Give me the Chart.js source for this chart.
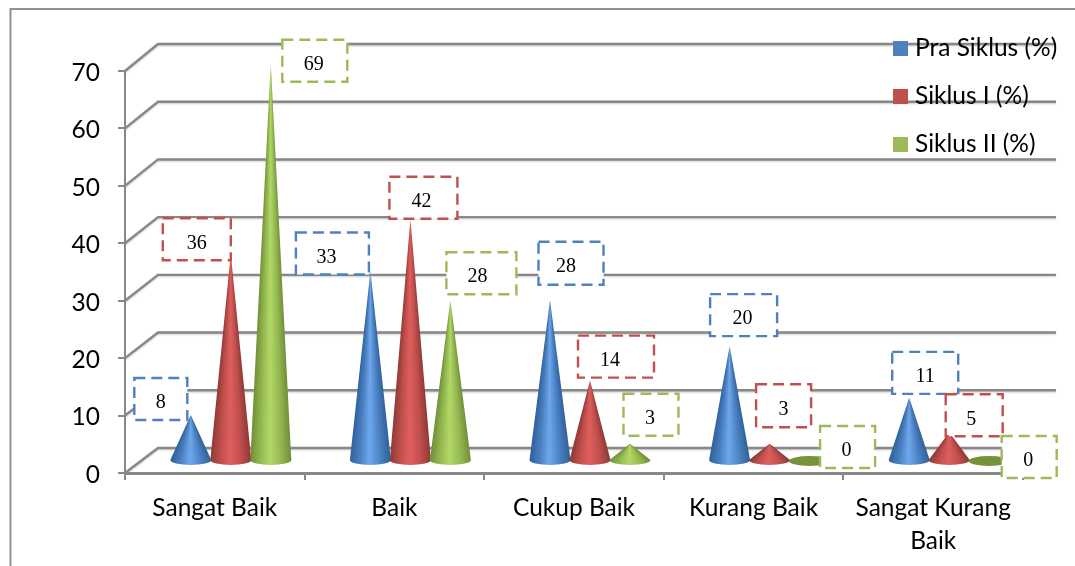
<!DOCTYPE html>
<html>
<head>
<meta charset="utf-8">
<style>
  html, body { margin: 0; padding: 0; background: #fff; }
  canvas { display: block; }
</style>
<script src="https://cdn.jsdelivr.net/npm/chart.js@4/dist/chart.umd.min.js"></script>
</head>
<body>
<canvas id="chart" width="1075" height="566"></canvas>
<script>
const categories = ['Sangat Baik', 'Baik', 'Cukup Baik', 'Kurang Baik', ['Sangat Kurang', 'Baik']];
const seriesNames = ['Pra Siklus (%)', 'Siklus I (%)', 'Siklus II (%)'];
const praSiklus = [8, 33, 28, 20, 11];
const siklusI = [36, 42, 14, 3, 5];
const siklusII = [69, 28, 3, 0, 0];
const yTicks = [0, 10, 20, 30, 40, 50, 60, 70];

// colours per series: legend swatch, dashed box, cone shading (edge, mid, centre)
const seriesColors = ['#4f81bd', '#c0504d', '#9bbb59'];
const labelBorders = ['#4f81bd', '#c0504d', '#9bbb59'];
const coneShades = [
    ['#2f5f98', '#4a80c0', '#6ea8ec'],
    ['#8c3836', '#c04f4c', '#de5f5d'],
    ['#6f8c38', '#94b850', '#b2d866']
];
const flatCone = ['#3b6496', '#a04240', '#76923c'];

// value label boxes, [dx, dy, w, h, text dx] from the top of each bar
const labelBoxes = [
    [[-14, -28, 53, 42, 0], [-22, -30, 73, 42, -6], [37, -49, 65, 43, -5], [30, -43, 67, 42, -1], [32, -37, 66, 42, 0]],
    [[-18, -27, 68, 42, 0], [29, -34, 68, 42, -2], [42, -36, 76, 42, -6], [30, -50, 55, 43, 0], [41, -29, 57, 42, -3]],
    [[60, -16, 65, 42, -1], [47, -39, 70, 42, -4], [37, -41, 55, 42, -1], [54, -26, 55, 42, -1], [56, -16, 55, 42, -1]]
];

const GRID = '#888888';
const DEPTH_X = 33;                   // back wall offset of the fake 3D box
const CONE_X = 16, CONE_Y = 12;       // cones stand in the middle of the floor
const CONE_RX = 20.5, CONE_RY = 5;

function strokeLine(ctx, pts, width, color) {
    ctx.beginPath();
    pts.forEach((p, i) => i ? ctx.lineTo(p[0], p[1]) : ctx.moveTo(p[0], p[1]));
    ctx.lineWidth = width;
    ctx.strokeStyle = color;
    ctx.stroke();
}

function drawCone(ctx, x, top, base, shades, flat) {
    const cx = x + CONE_X, by = base - CONE_Y, ay = top - CONE_Y;
    if (base - top < 1) {
        ctx.fillStyle = flat;
        ctx.beginPath();
        ctx.ellipse(cx, by, CONE_RX, CONE_RY, 0, 0, Math.PI * 2);
        ctx.fill();
        return;
    }
    ctx.save();
    ctx.beginPath();
    ctx.moveTo(cx, ay);
    ctx.lineTo(cx + CONE_RX, by);
    ctx.ellipse(cx, by, CONE_RX, CONE_RY, 0, 0, Math.PI);
    ctx.closePath();
    ctx.clip();
    // one gradient per pixel row so the shading narrows towards the tip
    for (let py = Math.floor(ay); py <= by + CONE_RY; py++) {
        const half = Math.min(CONE_RX, CONE_RX * (py - ay) / (by - ay)) + 0.5;
        const g = ctx.createLinearGradient(cx - half, 0, cx + half, 0);
        g.addColorStop(0, shades[0]);
        g.addColorStop(0.25, shades[1]);
        g.addColorStop(0.48, shades[2]);
        g.addColorStop(0.75, shades[1]);
        g.addColorStop(1, shades[0]);
        ctx.fillStyle = g;
        ctx.fillRect(cx - half - 1, py, half * 2 + 2, 1);
    }
    ctx.restore();
}

const conePlugin = {
    id: 'cones',
    beforeDraw(chart) {
        const ctx = chart.ctx, y = chart.scales.y, x = chart.scales.x;
        // axis numbers sit a little below their tick marks
        y.getLabelItems().forEach(item => { item.options.translation[1] += 2; });
        ctx.save();
        // outer frame, left and top only
        strokeLine(ctx, [[10.5, 566], [10.5, 9], [1075, 9]], 2, '#8f8f8f');
        // back wall lines and the diagonals running to the axis
        ctx.shadowColor = 'rgba(0,0,0,0.2)';
        ctx.shadowBlur = 2;
        ctx.shadowOffsetY = 1;
        yTicks.forEach(v => {
            const py = y.getPixelForValue(v);
            const back = py - (25 + v / 35);
            strokeLine(ctx, [[x.left, py], [x.left + DEPTH_X, back], [x.right + DEPTH_X, back]], 2.4, GRID);
        });
        ctx.restore();
    },
    beforeDatasetsDraw(chart) {
        const ctx = chart.ctx;
        ctx.save();
        chart.data.datasets.forEach((ds, i) => {
            chart.getDatasetMeta(i).data.forEach(bar => {
                drawCone(ctx, bar.x, bar.y, bar.base, coneShades[i], flatCone[i]);
            });
        });
        ctx.restore();
        return false;
    },
    afterDraw(chart) {
        const ctx = chart.ctx;
        ctx.save();
        // dashed value labels
        chart.data.datasets.forEach((ds, i) => {
            chart.getDatasetMeta(i).data.forEach((bar, j) => {
                const [dx, dy, w, h, tx] = labelBoxes[i][j];
                const cx = bar.x + dx, cy = bar.y + dy;
                ctx.fillStyle = '#fff';
                ctx.fillRect(cx - w / 2, cy - h / 2, w, h);
                ctx.setLineDash([11, 6]);
                ctx.lineWidth = 2.4;
                ctx.strokeStyle = labelBorders[i];
                ctx.strokeRect(cx - w / 2, cy - h / 2, w, h);
                ctx.setLineDash([]);
                ctx.fillStyle = '#000';
                ctx.font = '20px "Liberation Serif"';
                ctx.textAlign = 'center';
                ctx.textBaseline = 'middle';
                ctx.fillText(String(ds.data[j]), cx + tx, cy + 4);
            });
        });
        // legend sits on top of the back wall lines
        chart.data.datasets.forEach((ds, i) => {
            const ly = 48.5 + i * 48;
            ctx.fillStyle = seriesColors[i];
            ctx.fillRect(893, ly - 7.5, 15, 15);
            ctx.fillStyle = '#000';
            ctx.font = '24.5px Lato';
            ctx.textAlign = 'left';
            ctx.textBaseline = 'middle';
            ctx.fillText(ds.label, 915, ly);
        });
        ctx.restore();
    }
};

new Chart(document.getElementById('chart'), {
    type: 'bar',
    data: {
        labels: categories,
        datasets: [
            { label: seriesNames[0], data: praSiklus, backgroundColor: seriesColors[0] },
            { label: seriesNames[1], data: siklusI, backgroundColor: seriesColors[1] },
            { label: seriesNames[2], data: siklusII, backgroundColor: seriesColors[2] }
        ]
    },
    options: {
        responsive: false,
        animation: false,
        layout: { padding: { left: 0, right: 52, top: 71, bottom: 0 } },
        datasets: { bar: { categoryPercentage: 0.668, barPercentage: 1 } },
        plugins: { legend: { display: false }, tooltip: { enabled: false } },
        scales: {
            x: {
                afterFit: scale => { scale.height = 93; },
                grid: { drawOnChartArea: false, color: GRID, lineWidth: 2, tickLength: 7 },
                border: { color: GRID, width: 3 },
                ticks: { color: '#000', padding: 11, maxRotation: 0, autoSkip: false, font: { family: 'Lato', size: 24.5, lineHeight: 1.36 } }
            },
            y: {
                min: 0,
                max: 70,
                afterFit: scale => { scale.width = 125; },
                grid: { drawOnChartArea: false, color: GRID, lineWidth: 2, tickLength: 7 },
                border: { color: GRID, width: 2 },
                ticks: { color: '#000', stepSize: 10, padding: 18, font: { family: 'Lato', size: 24.5 } }
            }
        }
    },
    plugins: [conePlugin]
});
</script>
</body>
</html>
